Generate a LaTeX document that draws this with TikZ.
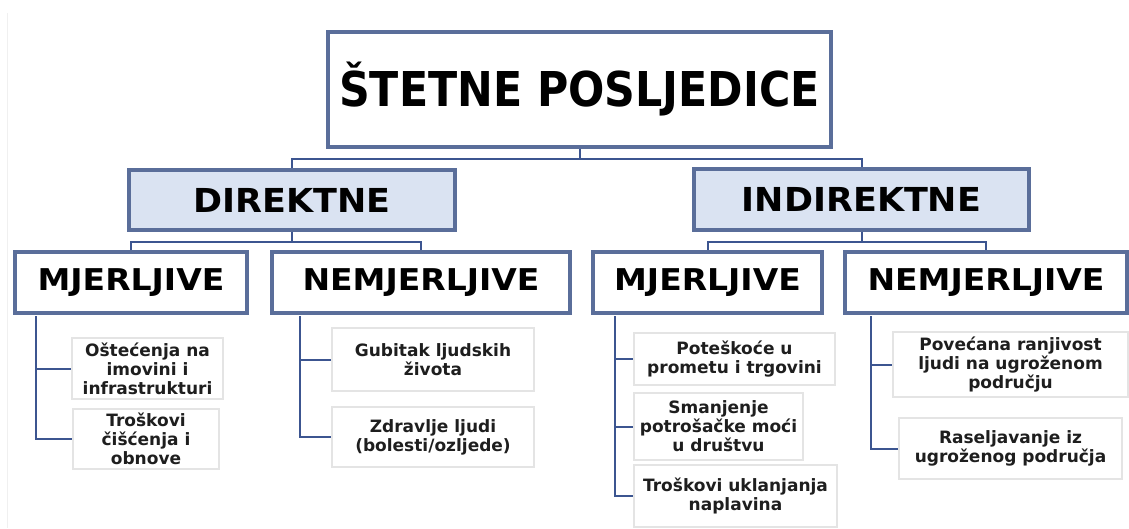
\documentclass[tikz,border=0pt]{standalone}
\usepackage{fontspec}
\setmainfont{DejaVu Sans}
\usetikzlibrary{positioning}
\definecolor{boxblue}{HTML}{5A6E9A}
\definecolor{linkblue}{HTML}{3C5590}
\definecolor{headfill}{HTML}{DAE3F2}
\definecolor{leafgray}{HTML}{E4E4E4}
\definecolor{leaftext}{HTML}{1E1E1E}
\tikzset{
  hbox/.style={draw=boxblue, line width=3.2pt, fill=white, inner sep=0pt, align=center, font=\bfseries},
  midbox/.style={hbox, fill=headfill},
  leafbox/.style={draw=leafgray, line width=1.6pt, fill=white, inner sep=0pt, align=center,
     font=\fontsize{17}{19}\selectfont\bfseries, text=leaftext},
  link/.style={draw=linkblue, line width=2pt},
}
\begin{document}
\begin{tikzpicture}[x=1pt,y=-1pt]
\useasboundingbox (0,0) rectangle (1129,528);
\fill[white] (0,0) rectangle (1129,528);
\draw[black!6, line width=1pt] (7.5,13) -- (7.5,528);

% top
\node[hbox, minimum width=503pt, minimum height=115pt, font=\fontsize{48}{52}\selectfont\bfseries] (top) at (579.5,89.5) {\raisebox{5pt}{\scalebox{0.89}[1]{ŠTETNE POSLJEDICE}}};

% level 2
\node[midbox, minimum width=326pt, minimum height=60pt, font=\fontsize{33}{38}\selectfont\bfseries] (dir) at (292,200) {\scalebox{1.06}[1]{DIREKTNE}};
\node[midbox, minimum width=335pt, minimum height=61pt, font=\fontsize{33}{38}\selectfont\bfseries] (ind) at (861.5,199.5) {\scalebox{1.06}[1]{INDIREKTNE}};

% level 3
\tikzset{l3/.style={hbox, minimum height=61pt, font=\fontsize{30}{34}\selectfont\bfseries}}
\node[l3, minimum width=232pt] (mj1) at (131,282.5) {\scalebox{1.1}[1]{MJERLJIVE}};
\node[l3, minimum width=298pt] (nm1) at (421,282.5) {\scalebox{1.1}[1]{NEMJERLJIVE}};
\node[l3, minimum width=229pt] (mj2) at (707.5,282.5) {\scalebox{1.1}[1]{MJERLJIVE}};
\node[l3, minimum width=282pt] (nm2) at (986,282.5) {\scalebox{1.1}[1]{NEMJERLJIVE}};

% leaves
\node[leafbox, minimum width=151pt, minimum height=61pt] (l11) at (147.5,368.5) {Oštećenja na\\imovini i\\infrastrukturi};
\node[leafbox, minimum width=146pt, minimum height=60pt] (l12) at (146,439) {Troškovi\\čišćenja i\\obnove};
\node[leafbox, minimum width=202pt, minimum height=63pt] (l21) at (433,359.5) {Gubitak ljudskih\\života};
\node[leafbox, minimum width=202pt, minimum height=60pt] (l22) at (433,437) {Zdravlje ljudi\\(bolesti/ozljede)};
\node[leafbox, minimum width=201pt, minimum height=52pt] (l31) at (734.5,359) {Poteškoće u\\prometu i trgovini};
\node[leafbox, minimum width=169pt, minimum height=67pt] (l32) at (718.5,426.5) {Smanjenje\\potrošačke moći\\u društvu};
\node[leafbox, minimum width=203pt, minimum height=62pt] (l33) at (735.5,496) {Troškovi uklanjanja\\naplavina};
\node[leafbox, minimum width=235pt, minimum height=65pt] (l41) at (1010.5,364.5) {Povećana ranjivost\\ljudi na ugroženom\\području};
\node[leafbox, minimum width=223pt, minimum height=61pt] (l42) at (1010.5,448.5) {Raseljavanje iz\\ugroženog područja};

% connectors level 1-2
\draw[link] (top.south) -- ++(0,10) -| (dir.north);
\draw[link] (top.south) -- ++(0,10) -| (ind.north);
% level 2-3
\draw[link] (dir.south) -- ++(0,10) -| (mj1.north);
\draw[link] (dir.south) -- ++(0,10) -| (nm1.north);
\draw[link] (ind.south) -- ++(0,10) -| (mj2.north);
\draw[link] (ind.south) -- ++(0,10) -| (nm2.north);
% level 3-leaves
\coordinate (s1) at ([xshift=23pt,yshift=-1.6pt]mj1.south west);
\coordinate (s2) at ([xshift=30pt,yshift=-1.6pt]nm1.south west);
\coordinate (s3) at ([xshift=24pt,yshift=-1.6pt]mj2.south west);
\coordinate (s4) at ([xshift=28pt,yshift=-1.6pt]nm2.south west);
\draw[link] (s1) |- (l11.west);
\draw[link] (s1) |- (l12.west);
\draw[link] (s2) |- (l21.west);
\draw[link] (s2) |- (l22.west);
\draw[link] (s3) |- (l31.west);
\draw[link] (s3) |- (l32.west);
\draw[link] (s3) |- (l33.west);
\draw[link] (s4) |- (l41.west);
\draw[link] (s4) |- (l42.west);
\end{tikzpicture}
\end{document}
